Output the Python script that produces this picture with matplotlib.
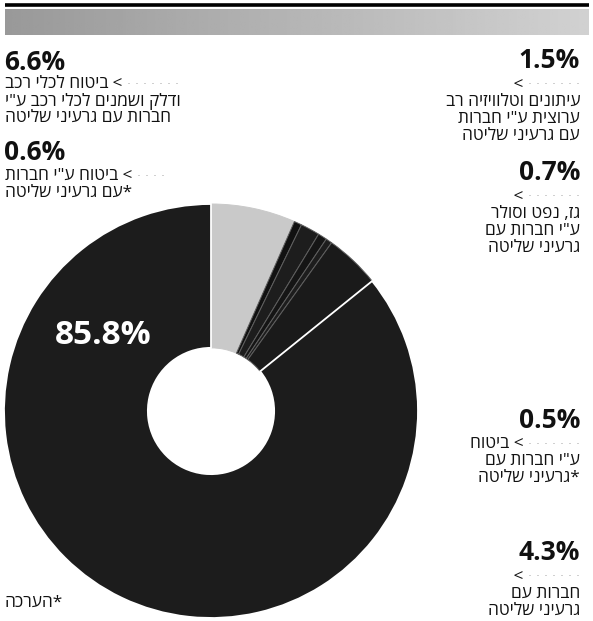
import matplotlib
matplotlib.use('Agg')
import matplotlib.pyplot as plt
import numpy as np

W, H = 593, 621

# ---- data ----
shares = [6.6, 0.6, 1.5, 0.7, 0.5, 4.3, 85.8]
share_labels = ['6.6%', '0.6%', '1.5%', '0.7%', '0.5%', '4.3%', '85.8%']
wedge_colors = ['#c9c9c9', '#111111', '#1d1d1d', '#151515', '#1d1d1d', '#1a1a1a', '#1c1c1c']

desc_66 = ['ביטוח לכלי רכב', 'ודלק ושמנים לכלי רכב ע"י', 'חברות עם גרעיני שליטה']
desc_06 = ['ביטוח ע"י חברות', 'עם גרעיני שליטה*']
desc_15 = ['עיתונים וטלוויזיה רב', 'ערוצית ע"י חברות', 'עם גרעיני שליטה']
desc_07 = ['גז, נפט וסולר', 'ע"י חברות עם', 'גרעיני שליטה']
desc_05 = ['ביטוח', 'ע"י חברות עם', 'גרעיני שליטה*']
desc_43 = ['חברות עם', 'גרעיני שליטה']
footnote = '*הערכה'
faded = '· · · · · · ·'

HEB = ['Open Sans', 'DejaVu Sans']
PCT = ['Open Sans', 'DejaVu Sans']


def vis(s):
    """Logical Hebrew -> visual (left-to-right drawing) order."""
    if s.endswith('*'):
        return s[:-1][::-1] + '*'
    if s.startswith('*'):
        return s[1:][::-1] + '*'
    return s[::-1]


fig = plt.figure(figsize=(W / 100, H / 100), dpi=100)
fig.patch.set_facecolor('white')

# ---- donut ----
R = 207
cx, cy = 211, 411
pax = fig.add_axes([(cx - R) / W, (H - cy - R) / H, 2 * R / W, 2 * R / H])
wedges, _ = pax.pie(shares, colors=wedge_colors, startangle=90, counterclock=False,
                    radius=1, wedgeprops=dict(width=0.695, linewidth=0.7, edgecolor='#5e5e5e'))
wedges[-1].set_edgecolor('white')
wedges[-1].set_linewidth(1.3)
wedges[0].set_edgecolor('#c9c9c9')
pax.set_xlim(-1, 1)
pax.set_ylim(-1, 1)
pax.axis('off')

# ---- overlay in pixel coordinates ----
ov = fig.add_axes([0, 0, 1, 1], zorder=5)
ov.set_xlim(0, W)
ov.set_ylim(H, 0)
ov.axis('off')
ov.patch.set_alpha(0)

# header rule and shaded band
ov.plot([5, 589], [5, 5], color='black', lw=2.6, solid_capstyle='butt')
grad = np.linspace(0.6, 0.82, 200)[None, :]
ov.imshow(grad, extent=(5, 589, 35, 9), cmap='gray', vmin=0, vmax=1, aspect='auto', zorder=1)

body = dict(fontsize=12.4, family=HEB, color='#111111', va='center', fontweight='medium')
pct = dict(fontsize=19, family=PCT, fontweight='bold', color='#111111', va='center')
fade = dict(fontsize=9, family=['DejaVu Sans'], color='#b0b0b0', va='center')
LH = 17

# left column (left aligned)
ov.text(4, 63, share_labels[0], ha='left', **pct)
h = ov.text(5, 84, vis(desc_66[0]), ha='left', **body)
c = ov.annotate(' < ', xy=(1, 0.5), xycoords=h, ha='left', **body)
ov.annotate(faded, xy=(1, 0.5), xycoords=c, ha='left', **fade)
for i, s in enumerate(desc_66[1:]):
    ov.text(5, 84 + LH * (i + 1), vis(s), ha='left', **body)

ov.text(4, 153, share_labels[1], ha='left', **pct)
h = ov.text(5, 176, vis(desc_06[0]), ha='left', **body)
c = ov.annotate(' < ', xy=(1, 0.5), xycoords=h, ha='left', **body)
ov.annotate(faded[:7], xy=(1, 0.5), xycoords=c, ha='left', **fade)
ov.text(5, 193, vis(desc_06[1]), ha='left', **body)

# right column (right aligned)
XR = 580


def right_block(y_pct, label, lines, prefix=None):
    ov.text(XR, y_pct, label, ha='right', **pct)
    y = y_pct + 24
    d = ov.text(XR, y, faded, ha='right', **fade)
    cap = ' < ' if prefix is None else vis(prefix) + ' < '
    ov.annotate(cap, xy=(0, 0.5), xycoords=d, ha='right', **body)
    for i, s in enumerate(lines):
        ov.text(XR, y + LH * (i + 1), vis(s), ha='right', **body)


right_block(61, share_labels[2], desc_15)
right_block(173, share_labels[3], desc_07)
right_block(420, share_labels[4], desc_05[1:], prefix=desc_05[0])
right_block(553, share_labels[5], desc_43)

# big share inside donut
ov.text(55, 335, share_labels[6], ha='left', va='center', fontsize=24,
        family=PCT, fontweight='bold', color='white')

# footnote
ov.text(5, 603, vis(footnote), ha='left', **body)

fig.savefig('out.png', dpi=100, facecolor='white')
